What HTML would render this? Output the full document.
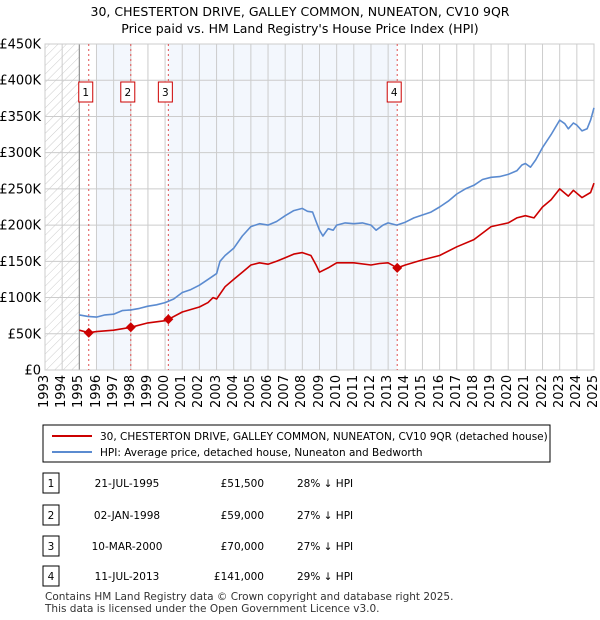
<!DOCTYPE html>
<html><head><meta charset="utf-8"><style>
body{margin:0;background:#fff;font-family:"Liberation Sans","DejaVu Sans",sans-serif;}
svg text{font-family:"DejaVu Sans","Liberation Sans",sans-serif;}
#wrap{position:relative;width:600px;height:620px;overflow:hidden;}
.xl{position:absolute;top:375px;height:36px;width:16px;line-height:16px;font-family:"DejaVu Sans","Liberation Sans",sans-serif;font-size:13px;writing-mode:vertical-rl;transform:rotate(180deg);text-align:end;white-space:nowrap;}
</style></head><body>
<div id="wrap">
<svg id="c" width="600" height="620" xmlns="http://www.w3.org/2000/svg" style="position:absolute;left:0;top:0">
<defs><pattern id="hatch" width="6" height="6" patternUnits="userSpaceOnUse" patternTransform="rotate(45)"><line x1="0" y1="0" x2="0" y2="6" stroke="#ccc" stroke-width="1"/></pattern></defs>
<text x="300" y="16" text-anchor="middle" font-size="12.5">30, CHESTERTON DRIVE, GALLEY COMMON, NUNEATON, CV10 9QR</text>
<text x="300" y="33" text-anchor="middle" font-size="12.5">Price paid vs. HM Land Registry's House Price Index (HPI)</text>
<g id="plot"></g>
<g>
<rect x="43" y="425" width="507" height="37" fill="#fff" stroke="#000" stroke-width="1"/>
<line x1="52" y1="436" x2="92" y2="436" stroke="#cc0000" stroke-width="2"/>
<text x="100" y="440" font-size="10.5">30, CHESTERTON DRIVE, GALLEY COMMON, NUNEATON, CV10 9QR (detached house)</text>
<line x1="52" y1="452" x2="92" y2="452" stroke="#5b8bd0" stroke-width="2"/>
<text x="100" y="456" font-size="10.5">HPI: Average price, detached house, Nuneaton and Bedworth</text>
</g>
<g id="tbl" font-size="10.5"></g>
<text x="45" y="600" font-size="10.5" fill="#333">Contains HM Land Registry data © Crown copyright and database right 2025.</text>
<text x="45" y="612" font-size="10.5" fill="#333">This data is licensed under the Open Government Licence v3.0.</text>
</svg>
</div>
<script>
const hpiYears=[1995,1995.5,1996,1996.5,1997,1997.5,1998,1998.5,1999,1999.5,2000,2000.5,2001,2001.5,2002,2002.5,2003,2003.2,2003.5,2004,2004.5,2005,2005.5,2006,2006.5,2007,2007.5,2008,2008.3,2008.6,2008.8,2009,2009.2,2009.5,2009.8,2010,2010.5,2011,2011.5,2012,2012.3,2012.7,2013,2013.5,2014,2014.5,2015,2015.5,2016,2016.5,2017,2017.5,2018,2018.5,2019,2019.5,2020,2020.5,2020.8,2021,2021.3,2021.6,2022,2022.5,2023,2023.3,2023.5,2023.8,2024,2024.3,2024.6,2024.8,2025];
const hpiValues=[76,74,73,76,77,82,83,85,88,90,93,98,107,111,117,125,133,150,158,168,185,198,202,200,205,213,220,223,219,218,205,193,185,195,193,200,203,202,203,200,193,200,203,200,204,210,214,218,225,233,243,250,255,263,266,267,270,275,283,285,280,290,307,325,345,340,333,341,338,330,333,345,362];
const ppYears=[1995,1995.55,1996,1997,1998,1999,2000,2000.2,2001,2002,2002.5,2002.8,2003,2003.5,2004,2004.5,2005,2005.5,2006,2006.5,2007,2007.5,2008,2008.5,2008.8,2009,2009.5,2010,2011,2012,2012.5,2013,2013.53,2014,2015,2016,2017,2018,2019,2020,2020.5,2021,2021.5,2022,2022.5,2023,2023.5,2023.8,2024.3,2024.8,2025];
const ppValues=[55,51.5,53,55,59,65,68,70,80,87,93,100,98,115,125,135,145,148,146,150,155,160,162,158,145,135,141,148,148,145,147,148,141,145,152,158,170,180,198,203,210,213,210,225,235,250,240,248,238,245,258];
const saleYears=[1995.55,1998.0,2000.19,2013.53];
const saleValues=[51.5,59,70,141];
const saleLabels=["1","2","3","4"];
const saleDates=["21-JUL-1995","02-JAN-1998","10-MAR-2000","11-JUL-2013"];
const salePrices=["£51,500","£59,000","£70,000","£141,000"];
const saleDiffs=["28% ↓ HPI","27% ↓ HPI","27% ↓ HPI","29% ↓ HPI"];
const yTicks=[0,50,100,150,200,250,300,350,400,450];
const yTickLabels=["£0","£50K","£100K","£150K","£200K","£250K","£300K","£350K","£400K","£450K"];
const xTicks=[1993,1994,1995,1996,1997,1998,1999,2000,2001,2002,2003,2004,2005,2006,2007,2008,2009,2010,2011,2012,2013,2014,2015,2016,2017,2018,2019,2020,2021,2022,2023,2024,2025];
const X0=45,X1=594,Y0=370,Y1=44;
const x=v=>X0+(v-1993)/(2025-1993)*(X1-X0);
const y=v=>Y0-v/450*(Y0-Y1);
const NS="http://www.w3.org/2000/svg";
const plot=document.getElementById('plot');
const wrap=document.getElementById('wrap');
function mk(tag,attrs,parent){const e=document.createElementNS(NS,tag);for(const k in attrs)e.setAttribute(k,attrs[k]);(parent||plot).appendChild(e);return e;}
let r=mk('rect',{x:x(1993),y:Y1,width:x(1995)-x(1993),height:Y0-Y1,fill:'url(#hatch)'});


r=mk('rect',{x:x(1996),y:Y1,width:x(saleYears[1])-x(1996),height:Y0-Y1,fill:'#eef3fc',opacity:0.7});


r=mk('rect',{x:x(saleYears[2]),y:Y1,width:x(saleYears[3])-x(saleYears[2]),height:Y0-Y1,fill:'#eef3fc',opacity:0.7});


yTicks.forEach((t,i)=>{
 const l=mk('line',{x1:X0,x2:X1,y1:y(t),y2:y(t),stroke:'#ccc','stroke-width':1});
 
 
 const tx=mk('text',{x:X0-4,y:y(t)+4.5,'text-anchor':'end','font-size':13});
 
 
 tx.textContent=yTickLabels[i];
});
xTicks.forEach(t=>{
 const l=mk('line',{x1:x(t),x2:x(t),y1:Y1,y2:Y0,stroke:'#ccc','stroke-width':1});
 
 
 const d=document.createElement('div');
 d.className='xl';
 d.style.left=(x(t)-8).toFixed(1)+'px';
 d.textContent=t;
 
 
 wrap.appendChild(d);
});
let ax=mk('line',{x1:x(1995),x2:x(1995),y1:Y1,y2:Y0,stroke:'#888','stroke-width':1});


ax=mk('rect',{x:X0,y:Y1,width:X1-X0,height:Y0-Y1,fill:'none',stroke:'#ccc'});


saleYears.forEach((s,i)=>{
 const l=mk('line',{x1:x(s),x2:x(s),y1:Y1,y2:Y0,stroke:'#e05050','stroke-width':1,'stroke-dasharray':'2,3'});
 
 
 const g=mk('g',{});
 
 
 const lx=x(s)-10;
 mk('rect',{x:lx,y:82,width:14,height:20,fill:'#fff',stroke:'#cc0000','stroke-width':1},g);
 const t=mk('text',{x:lx+7,y:96,'text-anchor':'middle','font-size':10.5},g);
 t.textContent=saleLabels[i];
});
function path(xs,vs,col,name){
 const d=xs.map((v,i)=>(i?'L':'M')+x(v).toFixed(1)+','+y(vs[i]).toFixed(1)).join('');
 const p=mk('path',{d:d,fill:'none',stroke:col,'stroke-width':1.6,'stroke-linejoin':'round'});
 
 
}
path(hpiYears,hpiValues,'#5b8bd0','hpi-line');
path(ppYears,ppValues,'#cc0000','price-paid-line');
saleYears.forEach((s,i)=>{
 const cx=x(s),cy=y(saleValues[i]);
 const p=mk('path',{d:`M${cx},${cy-5}L${cx+5},${cy}L${cx},${cy+5}L${cx-5},${cy}Z`,fill:'#cc0000'});
 
 
});
const tbl=document.getElementById('tbl');
const rowY=[483,515,546,576];
saleLabels.forEach((lab,i)=>{
 const g=mk('g',{},tbl);
 
 
 const cy=rowY[i];
 mk('rect',{x:43,y:cy-10,width:16,height:20,fill:'#fff',stroke:'#000'},g);
 let t=mk('text',{x:51,y:cy+4,'text-anchor':'middle'},g);t.textContent=lab;
 t=mk('text',{x:127,y:cy+4,'text-anchor':'middle'},g);t.textContent=saleDates[i];
 t=mk('text',{x:264,y:cy+4,'text-anchor':'end'},g);t.textContent=salePrices[i];
 t=mk('text',{x:297,y:cy+4},g);t.textContent=saleDiffs[i];
});
</script>
</body></html>
